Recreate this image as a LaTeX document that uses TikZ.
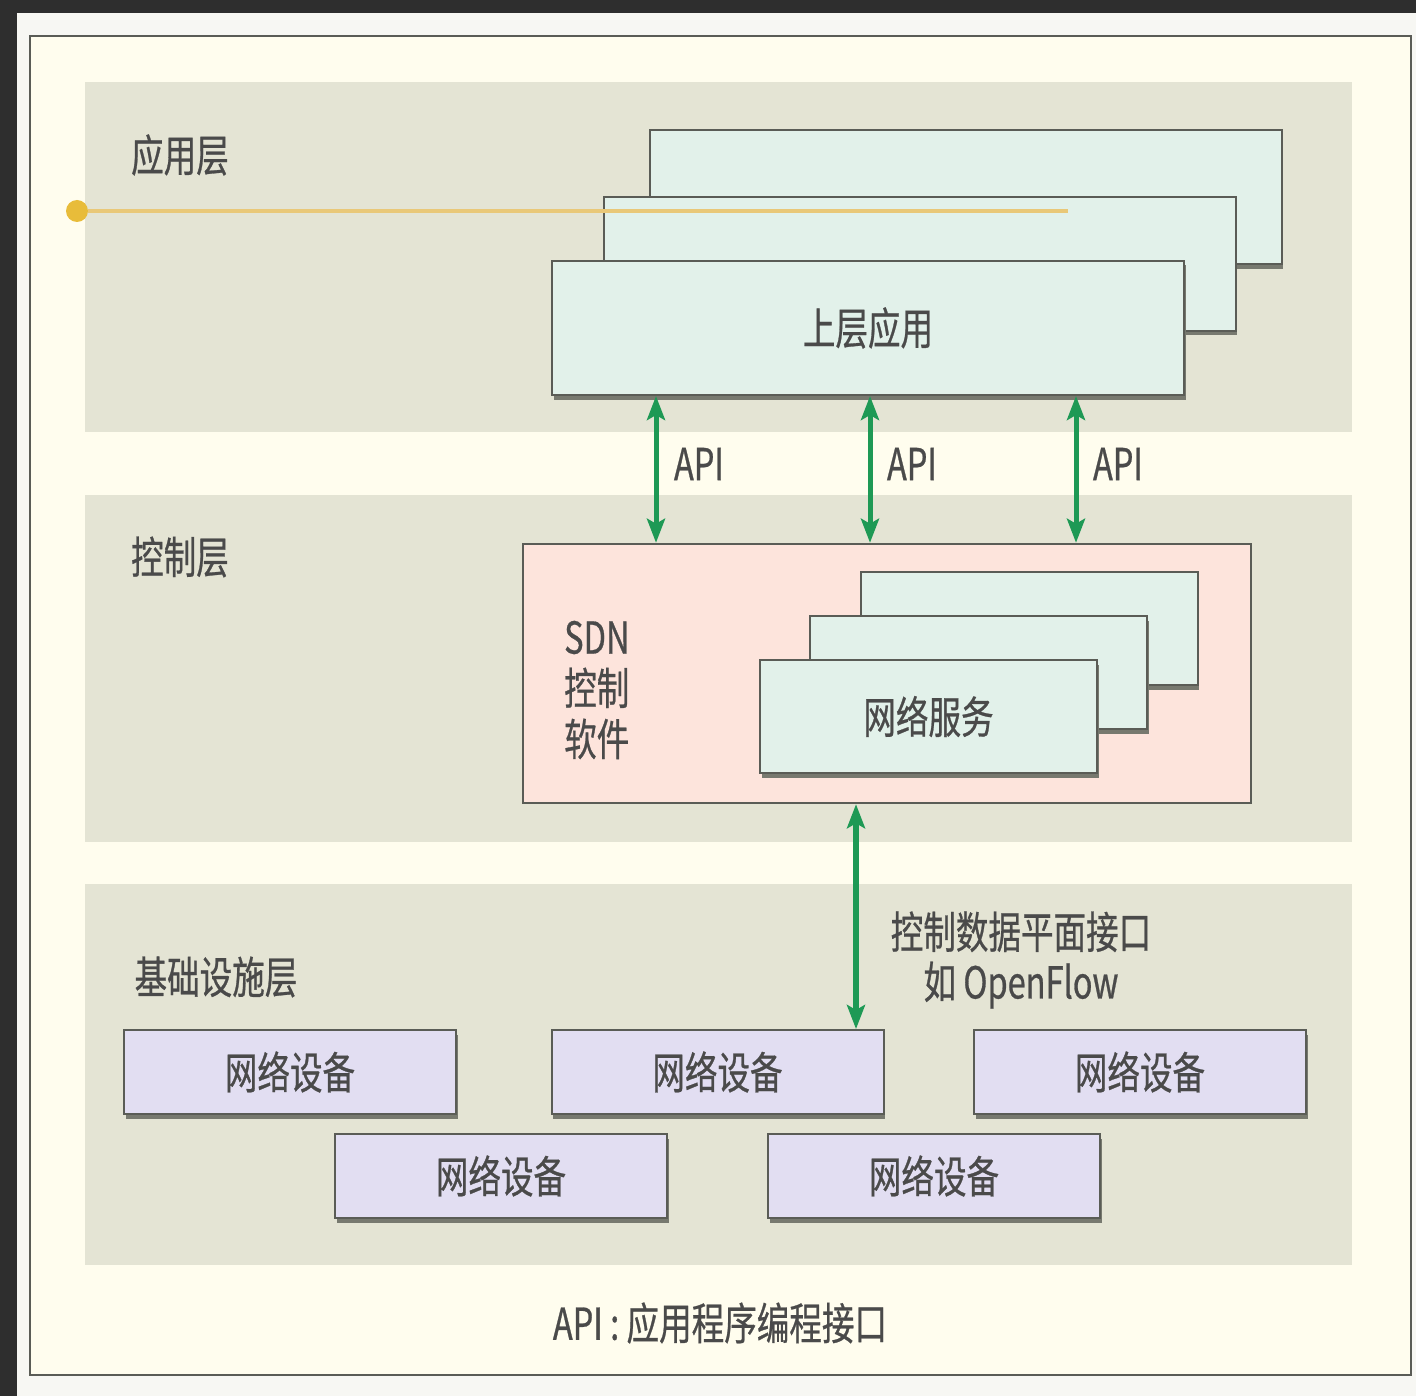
\documentclass[tikz,border=0pt]{standalone}
\usepackage{fontspec}
\newfontfamily\cjk[FakeStretch=0.74,FakeBold=0.6]{Noto Sans CJK SC}
\usetikzlibrary{arrows.meta,shadows}
\definecolor{frame}{HTML}{2E2E2E}
\definecolor{paper}{HTML}{F7F7F3}
\definecolor{cream}{HTML}{FFFDEE}
\definecolor{layer}{HTML}{E4E4D4}
\definecolor{appfill}{HTML}{E2F1EA}
\definecolor{ctrlfill}{HTML}{FDE4DC}
\definecolor{devfill}{HTML}{E2DEF2}
\definecolor{boxline}{HTML}{5A5C56}
\definecolor{shade}{HTML}{77796F}
\definecolor{txtgray}{HTML}{4A4A4A}
\definecolor{apigreen}{HTML}{1E9955}
\definecolor{ydot}{HTML}{E8BC3A}
\definecolor{yline}{HTML}{E9C878}
\begin{document}
\begin{tikzpicture}[x=1pt,y=-1pt,
  txt/.style={text=txtgray,font=\cjk\fontsize{44}{50}\selectfont,inner sep=0pt},
  box/.style={draw=boxline,line width=2pt,inner sep=0pt,
    drop shadow={shadow xshift=1.5pt,shadow yshift=-4.5pt,fill=shade,opacity=1},
    text=txtgray,font=\cjk\fontsize{44}{50}\selectfont},
  appbox/.style={box,fill=appfill,minimum width=632pt,minimum height=134pt},
  svcbox/.style={box,fill=appfill,minimum width=337pt,minimum height=113pt},
  devbox/.style={box,fill=devfill,minimum width=332pt,minimum height=84pt},
  ctrlbox/.style={draw=boxline,line width=2.5pt,fill=ctrlfill,inner sep=0pt,minimum width=728pt,minimum height=259pt},
  biarrow/.style={draw=apigreen,line width=5pt,{Stealth[length=24pt,width=18pt,inset=5pt]}-{Stealth[length=24pt,width=18pt,inset=5pt]}}
]
\useasboundingbox (0,0) rectangle (1416,1396);
% page frame
\fill[paper] (0,0) rectangle (1416,1396);
\fill[frame] (0,0) rectangle (1416,13);
\fill[frame] (0,0) rectangle (17,1396);
\draw[fill=cream,draw=boxline,line width=2.5pt] (30,36) rectangle (1411,1375);
% layers
\fill[layer] (85,82) rectangle (1352,432);
\fill[layer] (85,495) rectangle (1352,842);
\fill[layer] (85,884) rectangle (1352,1265);
\node[txt] (lapp) at (180,155) {应用层};
\node[txt] (lctrl) at (180,557) {控制层};
\node[txt] (linfra) at (216,977) {基础设施层};
% application boxes
\node[appbox] (app3) at (965.5,197.5) {};
\node[appbox] (app2) at (919.5,264) {};
\node[appbox] (app1) at (868,328) {上层应用};
% yellow line
\coordinate (yend) at (1068,211);
\node[circle,fill=ydot,minimum size=22pt,inner sep=0pt] (ydotn) at (77,211) {};
\draw[yline,line width=4.5pt] (ydotn) -- (yend);
% control box
\node[ctrlbox] (ctrl) at (887,673.5) {};
\node[txt,anchor=west,align=left,font=\cjk\fontsize{44}{51}\selectfont] (sdn) at (564,690) {SDN\\控制\\软件};
\node[svcbox] (svc3) at (1029,628.5) {};
\node[svcbox] (svc2) at (978.5,672.5) {};
\node[svcbox] (svc1) at (928.5,716.5) {网络服务};
% API arrows
\coordinate (a1) at (656,0);
\coordinate (a2) at (870,0);
\coordinate (a3) at (1076,0);
\draw[biarrow] (a1 |- app1.south) -- (a1 |- ctrl.north);
\draw[biarrow] (a2 |- app1.south) -- (a2 |- ctrl.north);
\draw[biarrow] (a3 |- app1.south) -- (a3 |- ctrl.north);
\node[txt] (api1) at (699,464) {API};
\node[txt] (api2) at (912,464) {API};
\node[txt] (api3) at (1118,464) {API};
% devices
\node[devbox] (d1) at (290,1072) {网络设备};
\node[devbox] (d2) at (717.5,1072) {网络设备};
\node[devbox] (d3) at (1140,1072) {网络设备};
\node[devbox] (d4) at (501,1176) {网络设备};
\node[devbox] (d5) at (934,1176) {网络设备};
% OpenFlow arrow
\coordinate (of) at (856,0);
\draw[biarrow,line width=6pt] (of |- ctrl.south) -- (of |- d2.north);
\node[txt,align=center] (ofl) at (1021,960) {控制数据平面接口\\如 OpenFlow};
% caption
\node[txt] (cap) at (720,1323) {API\,:\,应用程序编程接口};
\end{tikzpicture}
\end{document}
